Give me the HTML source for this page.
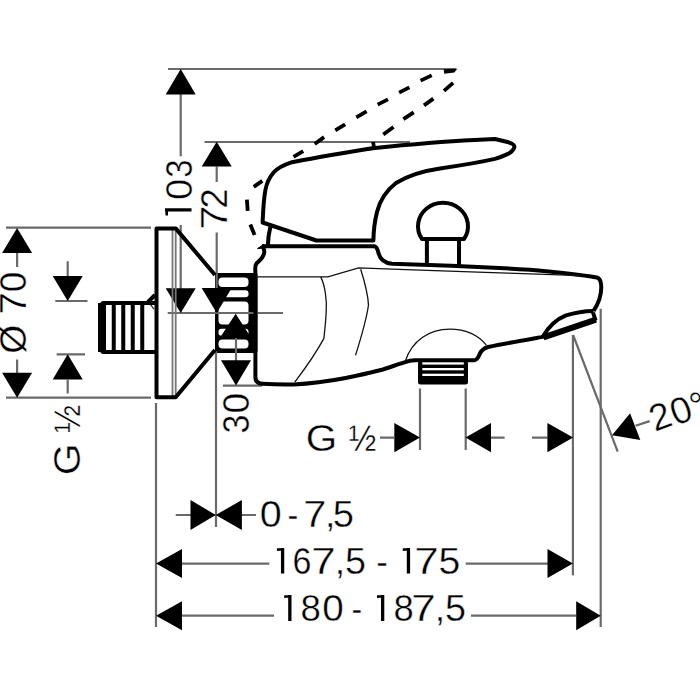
<!DOCTYPE html>
<html><head><meta charset="utf-8">
<style>
html,body{margin:0;padding:0;background:#fff;width:700px;height:700px;overflow:hidden}
svg{display:block}
text{font-family:"Liberation Sans",sans-serif;font-size:37.5px;fill:#000;stroke:#fff;stroke-width:0.4px}
</style></head><body>
<svg width="700" height="700" viewBox="0 0 700 700">
<!-- pipe bars & nut -->
<g fill="#000" stroke="none">
  <rect x="98" y="303" width="8" height="49"/>
  <rect x="111.75" y="303" width="4" height="49"/>
  <rect x="121.25" y="303" width="4" height="49"/>
  <rect x="130.75" y="303" width="4" height="49"/>
  <rect x="140.25" y="303" width="4" height="49"/>
  <rect x="215" y="273" width="42.5" height="80" rx="2"/>
</g>
<g fill="#fff" stroke="none">
  <rect x="218.5" y="277.5" width="30" height="9.5" rx="4"/>
  <rect x="218.5" y="290.3" width="30" height="7" rx="3"/>
  <rect x="218.5" y="301.4" width="30" height="23.2" rx="4"/>
  <rect x="218.5" y="328.7" width="30" height="7" rx="3"/>
  <rect x="218.5" y="339.5" width="30" height="9" rx="4"/>
  <path d="M151,304L154.5,300.5V309Z"/>
  <path d="M150.3,304.3L154,309.2" stroke="#222" stroke-width="1.1"/>
</g>
<!-- thin dimension lines -->
<g fill="none" stroke="#6a6a6a" stroke-width="2.2">
  <!-- 103 -->
  <path d="M168,69H456"/>
  <path d="M180.7,94V156.3M180.7,224.9V289"/>
  <!-- 72 -->
  <path d="M204.5,142H410"/>
  <path d="M216.7,166.6V182M216.7,232.6V288M216,351V527"/>
  <!-- centerline -->
  <path d="M167.7,313H283"/>
  <!-- Ø70 -->
  <path d="M6,227.7H151M6,397.7H151"/>
  <path d="M17.1,253V266.9M17.1,359.4V373"/>
  <!-- G½ left -->
  <path d="M55.3,301H87.5M56.6,354.3H85"/>
  <path d="M67.7,261.2V276M67.7,379.7V393.4"/>
  <!-- 30 -->
  <path d="M236,338V361M223,385.6H262"/>
  <!-- 0-7,5 -->
  <path d="M156,403V627"/>
  <path d="M175.7,515H256"/>
  <!-- 167,5 - 175 -->
  <path d="M182,563.6H269.3M465.7,563.6H548"/>
  <path d="M572.9,335V575.4"/>
  <!-- 180 - 187,5 -->
  <path d="M182,615.7H274M471,615.7H576.4"/>
  <path d="M600.7,308.75V627"/>
  <!-- G½ bottom -->
  <path d="M420,388.6V450M465.7,388.6V450"/>
  <path d="M380,437.6H394M491,437.6H504.6M532,437.6H547.4"/>
  <!-- 20° -->
  <path d="M573.1,335L617.7,451.7M635.6,425.8L649.7,421.1"/>
</g>
<!-- arrows -->
<g fill="#000" stroke="none">
  <path d="M180.7,69L165.7,94.5H195.7Z"/>
  <path d="M180.7,313L165.7,288.3H195.7Z"/>
  <path d="M216.7,141.7L201.7,166.6H231.7Z"/>
  <path d="M216.7,313L201.7,288H231.7Z"/>
  <path d="M17.1,228L2.1,253H32.1Z"/>
  <path d="M17.1,397.7L2.1,372.8H32.1Z"/>
  <path d="M67.7,301L52.7,276H82.7Z"/>
  <path d="M67.7,354.3L52.7,379.5H82.7Z"/>
  <path d="M235.6,313.7L220,337.8H251.2Z"/>
  <path d="M236,385.6L221,360.3H251Z"/>
  <path d="M215.7,515L190.5,500V530Z"/>
  <path d="M215.7,515L241.9,500V530Z"/>
  <path d="M156,563.6L182,549.1V578.1Z"/>
  <path d="M572.9,563.6L547.5,549.1V578.1Z"/>
  <path d="M156,615.7L182,601.2V630.2Z"/>
  <path d="M600.7,615.7L576.2,601.2V630.2Z"/>
  <path d="M420,437.6L394.3,423V452.3Z"/>
  <path d="M465.5,437.6L491,423V452.3Z"/>
  <path d="M573.1,437.6L547.4,423V452.3Z"/>
  <path d="M612,435.2L630.1,413.2L640.3,439.9Z"/>
</g>
<!-- gray double lines -->
<g fill="none" stroke="#777" stroke-width="1.8">
  <path d="M172.5,229V396M175.7,229V396"/>
</g>
<!-- thick outlines -->
<g fill="none" stroke="#000" stroke-width="4" stroke-linejoin="round" stroke-linecap="butt">
  <!-- flange -->
  <path d="M215,275L175.7,228.4H156.5V397.3H175.7L215,350"/>
  <!-- pipe thread -->
  <path d="M156,303H103L100,306V349L103,352H156"/>
  <path d="M148,302L155,295"/>
  <!-- body -->
  <path d="M263,248C264,249 264.5,250 264.2,252.5C263.5,258 260,260 256.5,263.5C254.5,266 255.4,269 255.4,273V377C255.4,381.5 258,383.4 262,383.7C275,384.5 285,384.6 293.6,384.4C315,383.5 330,381 345.7,378C360,375 372,372.5 382.9,369.5C392,366.5 399,364 405.1,362.1C408,361 410,360.4 415,360.2H474.5C477.5,360 478.5,357 479.6,354.3C481,351 483,348.5 488,347C505,343.5 525,340 541.3,337.1L546,336"/>
  <!-- lever -->
  <path d="M262.6,222.5C263.1,210 263.9,198 265.4,190C266.9,182 269.6,177 273.6,172.5C277.6,168 283.6,165 292,162.2C311,158.5 341,153.5 372.6,148.2C412,144.2 450,141.2 474.3,140L494.9,139L508.6,142.3C512,143.5 514.6,144.7 514.4,146.7C514.1,149.2 512,151.6 508.6,153.6C503,156.2 499,157.7 494.9,158.9C480,162.3 460,165.6 440,168.4C422,171 407,176 396,183C387,190 380,200 377,212C374.5,222 373.5,232 373.4,240.5H316.4Z"/>
  <path d="M262,246.2H374.5C376.5,246.5 377.5,249 378.5,253C380,259 384,263 392,263.8C420,264.5 485,267 530,269.8C560,272.5 585,275.5 596.9,277.5C600,278.3 601.2,281 601.3,287C601.3,295 599.5,302 593.6,310.9"/>
  <path d="M270.6,225.5C269,232 268,239 267.8,246.5"/>
  <path d="M257.5,248.6L264,244.2V248.2Z" fill="#000" stroke-width="1"/>
  <!-- knob -->
  <path d="M421.9,238.9A25,23.5 0 1 1 464.1,238.9Z"/>
  <path d="M426.9,239V264.5M459,239V265"/>
  <!-- aerator -->
  <path d="M593.6,310.9C585,311 575,312.5 566,315.4C557,319 549,326 542.9,336.5"/>
  <path d="M593,312.5L595.6,320.5"/>
</g>
<path d="M543.5,337.3L596,319.6" stroke="#000" stroke-width="6" fill="none"/>
<!-- outlet thread -->
<rect x="418" y="361" width="50" height="23.5" rx="2.5" fill="#000"/>
<g fill="#fff">
  <rect x="422.3" y="362.3" width="41.5" height="2.3"/>
  <rect x="422.3" y="368" width="41.5" height="2.3"/>
  <rect x="422.3" y="373.7" width="41.5" height="2.3"/>
</g>
<!-- thin body lines -->
<g fill="none" stroke="#111" stroke-width="1.3">
  <path d="M255.7,276.9H327.9L358.6,267.9C400,269.5 460,271.5 485,272.3C520,273.5 560,275 581.4,275.6"/>
  <path d="M320.7,276.9C325,285 327,300 326.2,312C325.5,325 324.5,333 323.9,338.4C315,355 304,370 294.8,382.1"/>
  <path d="M360.7,269.3C365,283 368,295 368.5,305C366,322 361,338 355.5,355.4"/>
  <path d="M405.3,361.1C412,340 430,329.1 449.9,329.1C466,329.1 478,335 486.4,345.1"/>
</g>
<!-- dashed lever (explicit dashes) -->
<g fill="none" stroke="#000" stroke-width="3.8" stroke-linecap="butt">
  <path d="M250.3,224.6L254.6,234.9M246.9,199.7L247.7,210.9M253.7,186.9L262.3,180.9M293.5,156.9L303.2,151.2M314.7,144L324.1,137.1M335.3,130.3L345.1,124.3M356.3,117.4L366.6,111.4M377.7,104.6L388,99.4M399.1,92.6L409.4,87.4M420.6,80.6L431.7,75.4"/>
  <path d="M373,142L374,147M383.3,134.5L393.5,127M403.4,119.1L413.7,112.3M424,105.4L433.4,98.6M444,90.9L453.1,82.8"/>
</g>
<path d="M443.6,69.3L457.3,68.8L454.3,72.6L444.3,73.8Z" fill="#000"/>
<!-- text -->
<g fill="#000"><path d="M280.95,548H284.25V573.5H280.95ZM276.95,548.3L281.45,548V550.6L276.95,550.9Z"/><path d="M406.80,548H410.10V573.5H406.80ZM402.80,548.3L407.30,548V550.6L402.80,550.9Z"/><path d="M288.20,595H291.50V621H288.20ZM284.20,595.3L288.70,595V597.6L284.20,597.9Z"/><path d="M381.00,595H384.30V621H381.00ZM377.00,595.3L381.50,595V597.6L377.00,597.9Z"/><path d="M165,208.25H191.5V211.5H165ZM165.3,211L168,211V215.5L165.5,215.5Z"/></g>
<text transform="translate(270.8,527) scale(1.054,1)" x="-10.43">0</text>
<text transform="translate(292.8,527) scale(0.863,1)" x="-6.24">-</text>
<text transform="translate(314.8,527) scale(1.109,1)" x="-10.45">7</text>
<text transform="translate(330.1,527) scale(1.000,1)" x="-5.21">,</text>
<text transform="translate(343.4,527) scale(1.018,1)" x="-10.39">5</text>
<text transform="translate(302.1,573.6) scale(0.907,1)" x="-10.56">6</text>
<text transform="translate(323.6,573.6) scale(1.173,1)" x="-10.45">7</text>
<text transform="translate(340.0,573.6) scale(1.000,1)" x="-5.21">,</text>
<text transform="translate(355.4,573.6) scale(1.007,1)" x="-10.39">5</text>
<text transform="translate(382.1,573.6) scale(0.928,1)" x="-6.24">-</text>
<text transform="translate(426.4,573.6) scale(1.173,1)" x="-10.45">7</text>
<text transform="translate(449.3,573.6) scale(1.046,1)" x="-10.39">5</text>
<text transform="translate(310.7,621.4) scale(0.977,1)" x="-10.43">8</text>
<text transform="translate(332.9,621.4) scale(1.032,1)" x="-10.43">0</text>
<text transform="translate(356.8,621.4) scale(0.852,1)" x="-6.24">-</text>
<text transform="translate(403.6,621.4) scale(0.972,1)" x="-10.43">8</text>
<text transform="translate(423.6,621.4) scale(1.173,1)" x="-10.45">7</text>
<text transform="translate(440.0,621.4) scale(1.000,1)" x="-5.21">,</text>
<text transform="translate(455.4,621.4) scale(1.007,1)" x="-10.39">5</text>
<text transform="translate(320.9,451) scale(1.078,1)" x="-14.13">G</text>
<text transform="translate(362.4,451) scale(0.879,1)" x="-15.65">½</text>
<text transform="translate(191.9,189.4) rotate(-90) scale(1.015,1)" x="-10.43">0</text>
<text transform="translate(191.9,168.8) rotate(-90) scale(0.872,1)" x="-10.32">3</text>
<text transform="translate(227.1,217.7) rotate(-90) scale(1.161,1)" x="-10.45">7</text>
<text transform="translate(227.1,198.4) rotate(-90) scale(0.966,1)" x="-10.43">2</text>
<text transform="translate(25.9,339.3) rotate(-90) scale(0.992,1)" x="-14.60">Ø</text>
<text transform="translate(25.9,303.4) rotate(-90) scale(1.073,1)" x="-10.45">7</text>
<text transform="translate(25.9,282.0) rotate(-90) scale(0.987,1)" x="-10.43">0</text>
<text transform="translate(79.9,459.7) rotate(-90) scale(1.095,1)" x="-14.13">G</text>
<text transform="translate(79.9,418.9) rotate(-90) scale(0.899,1)" x="-15.65">½</text>
<text transform="translate(249.2,424.1) rotate(-90) scale(0.906,1)" x="-10.32">3</text>
<text transform="translate(249.2,403.2) rotate(-90) scale(0.987,1)" x="-10.43">0</text>
<text transform="translate(654.8,432) rotate(-20)">2<tspan dx="0.7" dy="1.5">0</tspan><tspan dy="1">°</tspan></text>
</svg>
</body></html>
